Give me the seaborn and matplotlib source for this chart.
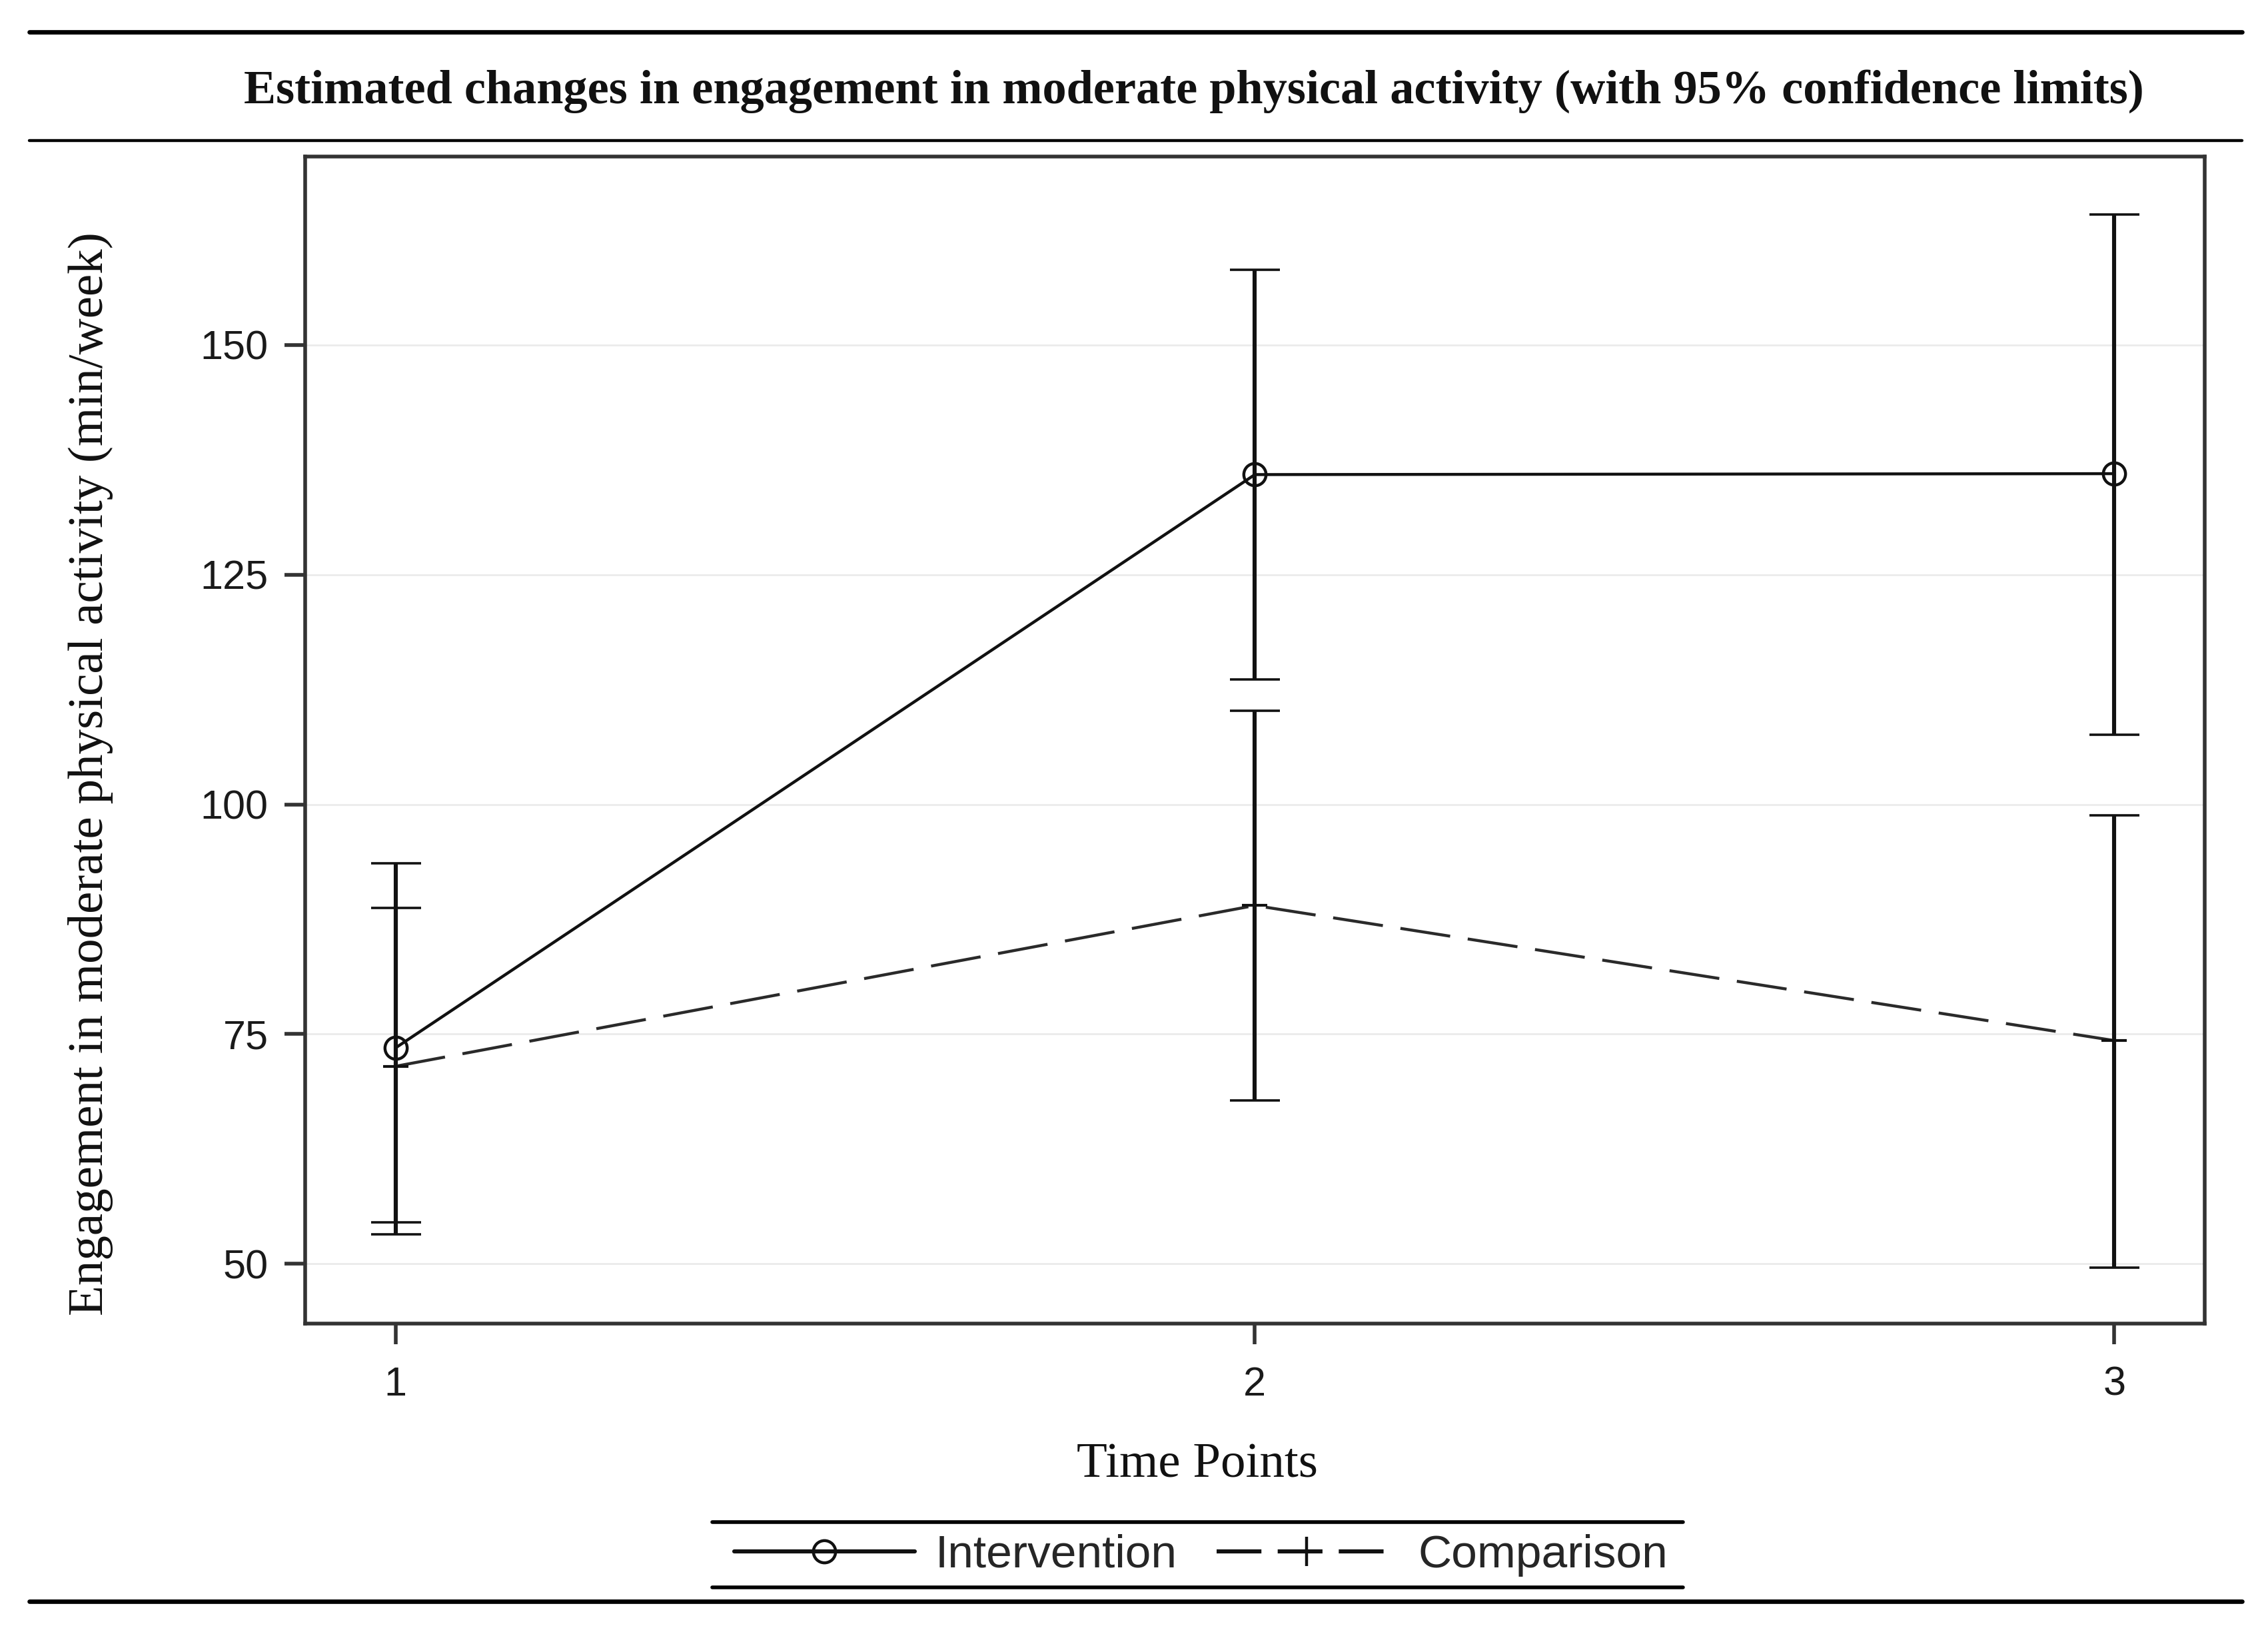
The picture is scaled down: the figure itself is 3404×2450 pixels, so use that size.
import matplotlib
matplotlib.use("Agg")
import matplotlib.pyplot as plt
from matplotlib.lines import Line2D
import seaborn as sns
import pandas as pd

# ---- data ----
time_points = [1, 2, 3]
groups = ["Intervention", "Comparison"]
intervention_mean = [73.5, 135.9, 136.0]
intervention_lower = [53.2, 113.6, 107.6]
intervention_upper = [93.6, 158.2, 164.2]
comparison_mean = [71.5, 89.0, 74.3]
comparison_lower = [54.5, 67.8, 49.6]
comparison_upper = [88.7, 110.2, 98.8]
y_ticks = [50, 75, 100, 125, 150]
x_ticks = [1, 2, 3]

title_text = "Estimated changes in engagement in moderate physical activity (with 95% confidence limits)"
xlabel_text = "Time Points"
ylabel_text = "Engagement in moderate physical activity (min/week)"

df = pd.DataFrame({
    "time": time_points * 2,
    "value": intervention_mean + comparison_mean,
    "lower": intervention_lower + comparison_lower,
    "upper": intervention_upper + comparison_upper,
    "group": [groups[0]] * 3 + [groups[1]] * 3,
})

sns.set_theme(style="white")
plt.rcParams["font.family"] = ["Liberation Sans", "DejaVu Sans"]

DPI = 200
fig = plt.figure(figsize=(3404 / DPI, 2450 / DPI), dpi=DPI)
ax = fig.add_axes([0.1346, 0.189, 0.8374, 0.715])

ink = "#111111"
spine_c = "#333333"
dash_pat = (0, (17, 6))

# gridlines
ax.set_yticks(y_ticks)
ax.yaxis.grid(True, color="#ebebeb", linewidth=1.0)
ax.set_axisbelow(True)

# error bars
for g, d in df.groupby("group", sort=False):
    ax.errorbar(d["time"], d["value"],
                yerr=[d["value"] - d["lower"], d["upper"] - d["value"]],
                fmt="none", ecolor=ink, elinewidth=2.2, capsize=13.5,
                capthick=1.3, zorder=3)

# lines with markers
d_int = df[df["group"] == groups[0]]
d_cmp = df[df["group"] == groups[1]]
sns.lineplot(data=d_int, x="time", y="value", color=ink, marker="o",
             markersize=12, markerfacecolor="none", markeredgecolor=ink,
             markeredgewidth=1.6, linewidth=1.6, ax=ax, zorder=4)
sns.lineplot(data=d_cmp, x="time", y="value", color="#2a2a2a", marker="+",
             markersize=14, markeredgewidth=1.5, markeredgecolor=ink,
             linewidth=1.6, linestyle=dash_pat, ax=ax, zorder=4)

ax.set_xlim(0.895, 3.105)
ax.set_ylim(43.5, 170.5)
ax.set_xticks(x_ticks)
ax.set_xticklabels([str(t) for t in x_ticks])
ax.set_yticklabels([str(t) for t in y_ticks])

for s in ax.spines.values():
    s.set_color(spine_c)
    s.set_linewidth(2.0)
ax.tick_params(axis="both", direction="out", length=11, width=2.0,
               color=spine_c, labelsize=22, labelcolor="#1a1a1a",
               bottom=True, left=True)
ax.tick_params(axis="y", pad=9)
ax.tick_params(axis="x", pad=12)
ax.set_xlabel("")
ax.set_ylabel("")

serif = ["Liberation Serif", "DejaVu Serif"]
fig.text(0.040, 0.526, ylabel_text, rotation=90, ha="center", va="center",
         fontsize=27, family=serif, color="#111111")
fig.text(0.528, 0.102, xlabel_text, ha="center", va="center",
         fontsize=27, family=serif, color="#111111")
fig.text(0.5265, 0.944, title_text, ha="center", va="center",
         fontsize=26, family=serif, fontweight="bold", color="#111111")

# horizontal rules
def hrule(y, x0, x1, lw):
    fig.add_artist(Line2D([x0, x1], [y, y], transform=fig.transFigure,
                          color="black", linewidth=lw))

hrule(0.9805, 0.0128, 0.9885, 2.4)
hrule(0.914, 0.0128, 0.9885, 1.6)
hrule(0.0186, 0.0128, 0.9885, 2.4)
hrule(0.0674, 0.314, 0.742, 2.0)
hrule(0.0275, 0.314, 0.742, 2.0)

# legend
handles = [
    Line2D([], [], color=ink, linestyle="-", linewidth=2.2, marker="o",
           markersize=12, markerfacecolor="none", markeredgecolor=ink,
           markeredgewidth=1.6),
    Line2D([], [], color=ink, linestyle=(0, (11, 4)), linewidth=2.2,
           marker="+", markersize=16, markeredgewidth=1.6),
]
fig.legend(handles, groups, loc="center", bbox_to_anchor=(0.5295, 0.047),
           ncol=2, frameon=False, fontsize=25, handlelength=3.9,
           columnspacing=0.85, handletextpad=0.45)

fig.savefig("out.png", dpi=DPI, facecolor="white")
